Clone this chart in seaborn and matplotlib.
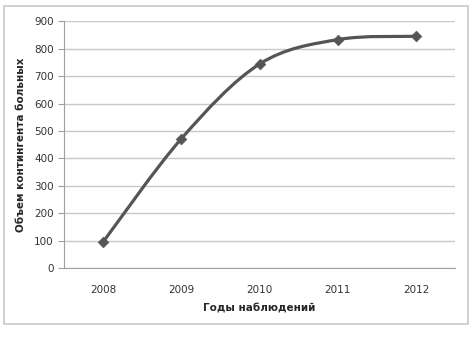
import numpy as np
import pandas as pd
import seaborn as sns
import matplotlib
matplotlib.use('Agg')
import matplotlib.pyplot as plt
from matplotlib.path import Path
from matplotlib.patches import PathPatch, Rectangle

years = ['2008', '2009', '2010', '2011', '2012']
patients = [96, 472, 744, 833, 845]

df = pd.DataFrame({'year': years, 'value': patients})

sns.set_style('white')
plt.rcParams['font.family'] = ['DejaVu Sans']

fig = plt.figure(figsize=(4.75, 3.42), dpi=100)
ax = fig.add_axes([0.135, 0.216, 0.823, 0.722])

line_col = '#555555'

# smoothed line like the Excel "smoothed line" option
xs = np.arange(len(years), dtype=float)
ys = np.array(patients, dtype=float)
pts = np.column_stack([xs, ys])
verts = [pts[0]]
codes = [Path.MOVETO]
for i in range(len(pts) - 1):
    p0 = pts[i - 1] if i > 0 else pts[i]
    p1 = pts[i]
    p2 = pts[i + 1]
    p3 = pts[i + 2] if i + 2 < len(pts) else pts[i + 1]
    c1 = p1 + (p2 - p0) / 6
    c2 = p2 - (p3 - p1) / 6
    verts += [c1, c2, p2]
    codes += [Path.CURVE4] * 3
ax.add_patch(PathPatch(Path(verts, codes), fill=False, edgecolor=line_col,
                       lw=2.3, zorder=3))

sns.scatterplot(data=df, x='year', y='value', marker='D', s=30, color=line_col,
                edgecolor=line_col, ax=ax, zorder=4)

ax.set_xlim(-0.5, 4.5)
ax.set_ylim(0, 900)
ax.set_yticks(range(0, 901, 100))
ax.grid(axis='y', color='#c8c8c8', lw=1)
ax.set_axisbelow(True)

for s in ['top', 'right']:
    ax.spines[s].set_visible(False)
ax.spines['left'].set_color('#a0a0a0')
ax.spines['bottom'].set_color('#a0a0a0')

ax.set_xticks(np.arange(-0.5, 4.6, 1), minor=False)
ax.set_xticklabels([''] * 6)
ax.set_xticks(xs, minor=True)
ax.set_xticklabels(years, minor=True)
ax.tick_params(axis='x', which='major', length=4, color='#a0a0a0', direction='out')
ax.tick_params(axis='x', which='minor', length=0, labelsize=7.5, labelcolor='#333333', pad=12)
ax.tick_params(axis='y', length=4, color='#a0a0a0', labelsize=7.5, labelcolor='#333333', left=True)

ax.set_xlabel('Годы наблюдений', fontsize=7.5, fontweight='bold', labelpad=6)
ax.set_ylabel('Объем контингента больных', fontsize=7.5, fontweight='bold', labelpad=6)

fig.patches.append(Rectangle((4 / 475, 18 / 342), 464 / 475, 318 / 342, transform=fig.transFigure,
                             fill=False, edgecolor='#c8c8c8', lw=1.2))

fig.savefig('out.png', dpi=100)
